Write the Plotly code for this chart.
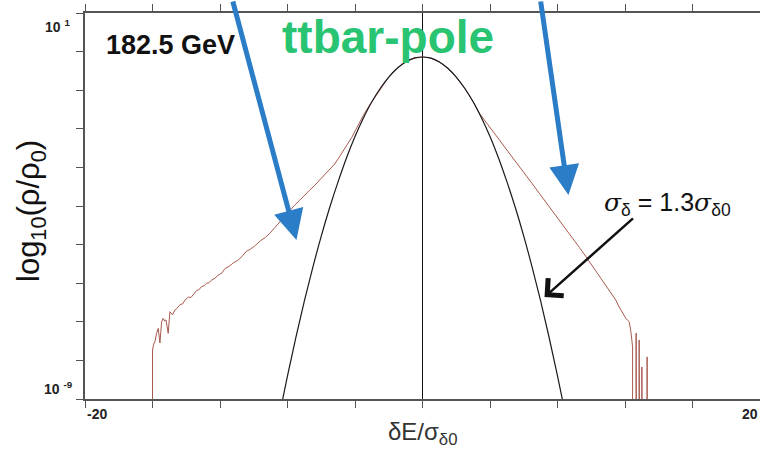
import plotly.graph_objects as go

# ---- data: x in units of sigma_delta0, y as log10(rho/rho0)
gauss_x = [-8.5, -8.0, -7.5, -7.0, -6.5, -6.0, -5.5, -5.0, -4.5, -4.0, -3.5, -3.0, -2.5, -2.0,
           -1.5, -1.0, -0.5, 0.0, 0.5, 1.0, 1.5, 2.0, 2.5, 3.0, 3.5, 4.0, 4.5, 5.0, 5.5, 6.0,
           6.5, 7.0, 7.5, 8.0, 8.5]
gauss_logy = [-9.46, -8.40, -7.40, -6.46, -5.59, -4.78, -4.04, -3.37, -2.75, -2.20, -1.72, -1.30,
              -0.95, -0.66, -0.43, -0.27, -0.17, -0.14, -0.17, -0.27, -0.43, -0.66, -0.95, -1.30,
              -1.72, -2.20, -2.75, -3.37, -4.04, -4.78, -5.59, -6.46, -7.40, -8.40, -9.46]

sim_x = [-16.0, -16.0, -15.93, -15.86, -15.76, -15.66, -15.56, -15.46, -15.37, -15.28, -15.2,
         -15.07, -14.97, -14.81, -14.69, -14.57, -14.38, -14.2, -14.08, -13.88, -13.72, -13.59,
         -13.39, -13.25, -13.1, -12.95, -12.8, -12.65, -12.5, -12.3, -12.1, -11.9, -11.7, -11.45,
         -11.2, -10.95, -10.7, -10.43, -10.2, -9.9, -9.6, -9.3, -9.05, -8.75, -8.45, -8.15, -7.87,
         -7.6, -7.3, -7.0, -6.69, -6.4, -6.1, -5.8, -5.5, -5.2, -4.9, -4.51, -4.2, -3.95, -3.73,
         -3.45, -3.14, -3.0, -2.5, -2.0, -1.5, -1.0, -0.5, 0.0, 0.5, 1.0, 1.5, 2.0, 2.5, 3.0,
         3.37, 3.7, 4.1, 4.56, 5.0, 5.35, 5.74, 6.1, 6.5, 6.92, 7.3, 7.7, 8.1, 8.5, 8.9, 9.29,
         9.7, 10.08, 10.47, 10.8, 11.07, 11.3, 11.46, 11.62, 11.76, 11.9, 12.05, 12.15, 12.25,
         12.35, 12.45, 12.45, None,
         12.66, 12.66, 12.67, None,
         12.83, 12.84, 12.86, None,
         13.0, 13.0, 13.01, None,
         13.3, 13.31, 13.32]
sim_logy = [-10.5, -7.73, -7.58, -7.52, -7.30, -7.17, -7.55, -7.00, -6.91, -6.98, -6.95,
            -7.30, -6.74, -6.82, -6.70, -6.66, -6.56, -6.53, -6.44, -6.36, -6.37, -6.31,
            -6.19, -6.17, -6.09, -6.07, -6.00, -5.99, -5.92, -5.87, -5.79, -5.74, -5.62, -5.56,
            -5.47, -5.41, -5.31, -5.17, -5.12, -5.02, -4.90, -4.81, -4.71, -4.56, -4.41, -4.26,
            -4.10, -3.99, -3.86, -3.74, -3.59, -3.47, -3.33, -3.21, -3.07, -2.91, -2.71, -2.46,
            -2.23, -2.02, -1.82, -1.61, -1.39, -1.30, -0.95, -0.66, -0.43, -0.27, -0.17, -0.14,
            -0.17, -0.27, -0.43, -0.66, -0.95, -1.30,
            -1.60, -1.80, -2.03, -2.29, -2.55, -2.76, -2.98, -3.20, -3.42, -3.67, -3.89, -4.13,
            -4.36, -4.59, -4.82, -5.07, -5.32, -5.56, -5.79, -6.01, -6.18, -6.34, -6.44, -6.59,
            -6.70, -6.79, -6.91, -6.96, -7.00, -7.26, -7.65, -10.5, None,
            -10.5, -7.29, -10.5, None,
            -10.5, -7.47, -10.5, None,
            -10.5, -8.17, -10.5, None,
            -10.5, -7.91, -10.5]

x_ticks = [-20, -16, -12, -8, -4, 0, 4, 8, 12, 16, 20]
y_ticks_exp = [-9, -8, -7, -6, -5, -4, -3, -2, -1, 0, 1]

sim_y = [None if v is None else 10 ** v for v in sim_logy]
gauss_y = [10 ** v for v in gauss_logy]

fig = go.Figure()
fig.add_trace(go.Scatter(x=sim_x, y=sim_y, mode="lines", connectgaps=False,
                         line=dict(color="#a85a50", width=1.0), showlegend=False))
fig.add_trace(go.Scatter(x=gauss_x, y=gauss_y, mode="lines",
                         line=dict(color="#1a1a1a", width=1.2, shape="spline"),
                         showlegend=False))

axis_col = "#555555"
fig.update_layout(
    width=760, height=453,
    margin=dict(l=85, r=0, t=13, b=54),
    paper_bgcolor="white", plot_bgcolor="white",
    font=dict(family="Liberation Sans, Arial, sans-serif", color="#222"),
    xaxis=dict(range=[-20, 20], tickvals=x_ticks, showticklabels=False,
               ticks="outside", ticklen=7, tickcolor=axis_col, tickwidth=1.2,
               showline=True, linecolor=axis_col, linewidth=1.5, mirror="ticks",
               showgrid=False, zeroline=True, zerolinecolor="#111", zerolinewidth=1),
    yaxis=dict(type="log", range=[-9, 1], tickvals=[10 ** e for e in y_ticks_exp],
               showticklabels=False, ticks="outside", ticklen=7, tickcolor=axis_col,
               tickwidth=1.2, showline=True, linecolor=axis_col, linewidth=1.5,
               mirror=False, showgrid=False, zeroline=False),
)

ann = []
# tick labels
ann.append(dict(xref="paper", yref="paper", x=(43 - 85) / 675, y=(399 - 26) / 386,
                xanchor="left", yanchor="middle", showarrow=False,
                text="<b>10 <sup>1</sup></b>", font=dict(size=14, color="#222")))
ann.append(dict(xref="paper", yref="paper", x=(42 - 85) / 675, y=(399 - 388) / 386,
                xanchor="left", yanchor="middle", showarrow=False,
                text="<b>10 <sup>-9</sup></b>", font=dict(size=14, color="#222")))
ann.append(dict(x=-20, xref="x", yref="paper", y=(399 - 414) / 386, xanchor="left",
                yanchor="middle", showarrow=False, text="<b>-20</b>",
                font=dict(size=14, color="#222")))
ann.append(dict(x=20, xref="x", yref="paper", y=(399 - 414) / 386, xanchor="right",
                yanchor="middle", showarrow=False, text="<b>20</b>",
                font=dict(size=14, color="#222")))
# axis titles
ann.append(dict(xref="paper", yref="paper", x=(31 - 85) / 675, y=(399 - 211) / 386,
                xanchor="center", yanchor="middle", showarrow=False, textangle=-90,
                text="log<sub>10</sub>(ρ/ρ<sub>0</sub>)",
                font=dict(size=31, color="#111")))
ann.append(dict(xref="x", yref="paper", x=0, y=(399 - 433) / 386,
                xanchor="center", yanchor="middle", showarrow=False,
                text="δE/σ<sub>δ0</sub>", font=dict(size=24, color="#333")))
# labels
ann.append(dict(xref="paper", yref="paper", x=(104 - 85) / 675, y=(399 - 45) / 386,
                xanchor="left", yanchor="middle", showarrow=False,
                text="<b>182.5 GeV</b>", font=dict(size=27, color="#111")))
ann.append(dict(xref="paper", yref="paper", x=(388 - 85) / 675, y=(399 - 37) / 386,
                xanchor="center", yanchor="middle", showarrow=False,
                text="<b>ttbar-pole</b>", font=dict(size=46, color="#28c472")))
ann.append(dict(xref="paper", yref="paper", x=(667 - 85) / 675, y=(399 - 204) / 386,
                xanchor="center", yanchor="middle", showarrow=False,
                text=("<span style='font-family:DejaVu Serif'><i>σ</i></span><sub>δ</sub>"
                      " = 1.3<span style='font-family:DejaVu Serif'><i>σ</i></span>"
                      "<sub>δ0</sub>"),
                font=dict(size=25, color="#111")))
# arrows
ann.append(dict(x=-7.47, y=-4.88, xref="x", yref="y", ax=-64, ay=-250, text="",
                showarrow=True, arrowhead=2, arrowsize=1.2, arrowwidth=5,
                arrowcolor="#2a7dc6", standoff=0))
ann.append(dict(x=8.65, y=-3.715, xref="x", yref="y", ax=-28, ay=-200, text="",
                showarrow=True, arrowhead=2, arrowsize=1.2, arrowwidth=5,
                arrowcolor="#2a7dc6", standoff=0))
ann.append(dict(x=7.23, y=-6.36, xref="x", yref="y", ax=90, ay=-80, text="",
                showarrow=True, arrowhead=4, arrowsize=1.8, arrowwidth=2.5,
                arrowcolor="#111", standoff=0))
fig.update_layout(annotations=ann)

fig.write_html("out.html")
